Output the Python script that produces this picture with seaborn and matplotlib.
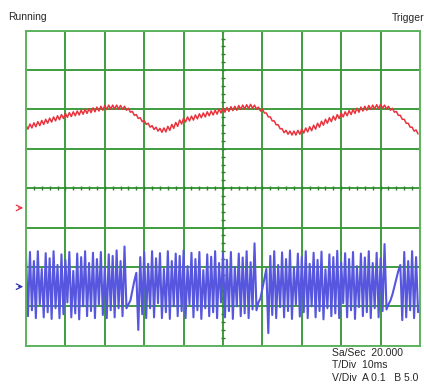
import numpy as np
import pandas as pd
import matplotlib.pyplot as plt
import seaborn as sns

# scope capture: 20 kS/s shown as 0.5 ms steps, 10 ms/div, 10 x 8 divisions
t_ms = np.arange(0, 100, 0.5)

# channel A (red), screen divisions, peak/trough pairs per ms
chan_a = [
    1.60, 1.50, 1.63, 1.53, 1.66, 1.56, 1.69, 1.59, 1.72, 1.62,
    1.75, 1.65, 1.78, 1.68, 1.81, 1.71, 1.84, 1.74, 1.87, 1.77,
    1.90, 1.80, 1.92, 1.82, 1.94, 1.84, 1.96, 1.86, 1.98, 1.88,
    2.00, 1.90, 2.02, 1.92, 2.04, 1.94, 2.06, 1.96, 2.08, 1.98,
    2.10, 2.00, 2.11, 2.01, 2.11, 2.01, 2.11, 2.01, 2.10, 2.00,
    2.08, 1.98, 2.03, 1.93, 1.95, 1.85, 1.87, 1.77, 1.79, 1.69,
    1.72, 1.62, 1.65, 1.55, 1.59, 1.49, 1.55, 1.45, 1.52, 1.42,
    1.53, 1.43, 1.57, 1.47, 1.62, 1.52, 1.67, 1.57, 1.73, 1.63,
    1.78, 1.68, 1.81, 1.71, 1.83, 1.73, 1.86, 1.76, 1.89, 1.79,
    1.91, 1.81, 1.94, 1.84, 1.96, 1.86, 1.98, 1.88, 2.01, 1.91,
    2.03, 1.93, 2.05, 1.95, 2.07, 1.97, 2.08, 1.98, 2.10, 2.00,
    2.11, 2.01, 2.12, 2.02, 2.13, 2.03, 2.11, 2.01, 2.06, 1.96,
    2.01, 1.91, 1.91, 1.81, 1.81, 1.71, 1.71, 1.61, 1.61, 1.51,
    1.51, 1.41, 1.47, 1.37, 1.45, 1.35, 1.45, 1.35, 1.47, 1.37,
    1.50, 1.40, 1.53, 1.43, 1.56, 1.46, 1.60, 1.50, 1.65, 1.55,
    1.70, 1.60, 1.75, 1.65, 1.79, 1.69, 1.83, 1.73, 1.87, 1.77,
    1.91, 1.81, 1.94, 1.84, 1.97, 1.87, 2.00, 1.90, 2.03, 1.93,
    2.06, 1.96, 2.08, 1.98, 2.10, 2.00, 2.11, 2.01, 2.12, 2.02,
    2.13, 2.03, 2.11, 2.01, 2.08, 1.98, 2.03, 1.93, 1.95, 1.85,
    1.85, 1.75, 1.75, 1.65, 1.65, 1.55, 1.55, 1.45, 1.48, 1.38,
]

# channel B (blue), screen divisions
chan_b = [
    -1.70, -3.25, -1.62, -3.10, -1.85, -3.30, -1.60, -2.95, -2.05, -3.28,
    -1.65, -3.15, -1.78, -3.32, -1.60, -3.05, -1.95, -3.30, -1.68, -3.20,
    -1.82, -2.90, -1.62, -3.28, -2.10, -3.18, -1.66, -3.33, -1.75, -3.00,
    -1.60, -3.25, -1.90, -3.12, -1.64, -3.30, -1.80, -2.95, -1.62, -3.22,
    -2.00, -3.30, -1.68, -3.10, -1.72, -3.28, -1.58, -3.05, -1.85, -3.25,
    -1.48, -3.05, -2.95, -2.85, -2.60, -2.35, -2.15, -3.60, -1.75, -3.20,
    -1.62, -3.30, -1.92, -3.05, -1.60, -3.28, -1.78, -2.92, -1.65, -3.30,
    -2.05, -3.15, -1.60, -3.32, -1.85, -3.00, -1.66, -3.25, -1.72, -3.12,
    -1.58, -3.30, -1.98, -2.95, -1.64, -3.28, -1.80, -3.10, -1.62, -3.32,
    -2.08, -3.05, -1.68, -3.25, -1.74, -3.15, -1.60, -3.30, -1.90, -2.90,
    -1.65, -3.28, -1.82, -3.12, -1.62, -3.32, -2.00, -3.00, -1.66, -3.25,
    -1.76, -3.18, -1.60, -3.30, -1.88, -3.08, -1.40, -3.10, -2.90, -2.80,
    -2.55, -2.30, -2.05, -3.68, -1.72, -3.22, -1.60, -3.30, -1.95, -3.02,
    -1.63, -3.28, -1.80, -3.12, -1.58, -3.32, -2.02, -2.95, -1.66, -3.26,
    -1.74, -3.15, -1.60, -3.30, -1.92, -3.00, -1.64, -3.28, -1.82, -3.12,
    -1.61, -3.33, -2.06, -3.05, -1.68, -3.25, -1.75, -3.18, -1.59, -3.30,
    -1.88, -2.92, -1.65, -3.28, -1.80, -3.10, -1.62, -3.32, -1.98, -3.02,
    -1.66, -3.25, -1.76, -3.15, -1.60, -3.30, -1.90, -3.05, -1.64, -3.28,
    -1.78, -3.12, -1.42, -3.08, -2.95, -2.85, -2.70, -2.50, -2.30, -2.10,
    -1.95, -3.35, -1.62, -3.28, -1.85, -3.10, -1.60, -3.30, -1.75, -3.15,
]

# ground markers (divisions)
ground_a = -0.5
ground_b = -2.5

status_left = 'Running'
status_right = 'Trigger'
info_lines = ['Sa/Sec  20.000', 'T/Div  10ms', 'V/Div  A 0.1   B 5.0']

df = pd.DataFrame({'t': t_ms, 'a': chan_a, 'b': chan_b})

sns.set_style('white')
plt.rcParams['font.family'] = ['Liberation Sans', 'DejaVu Sans']

GREEN = '#3f9c3f'

fig = plt.figure(figsize=(4.24, 3.88), dpi=100)
ax = fig.add_axes([26 / 424, 1 - 345.7 / 388, 394 / 424, 315 / 388])

sns.lineplot(data=df, x='t', y='a', ax=ax, color='#e8323c', lw=1.1,
             estimator=None, sort=False)
sns.lineplot(data=df, x='t', y='b', ax=ax, color='#5656de', lw=1.5,
             estimator=None, sort=False)

ax.set_xlim(0, 100)
ax.set_ylim(-4, 4)
ax.set_xticks(np.arange(0, 101, 10))
ax.set_yticks(np.arange(-4, 5, 1))
ax.set_axisbelow(True)
ax.grid(True, color=GREEN, lw=1.4)
ax.tick_params(length=0, labelbottom=False, labelleft=False)
ax.set_xlabel('')
ax.set_ylabel('')
for s in ax.spines.values():
    s.set_color('#5fb25f')
    s.set_linewidth(1.4)

# center graticule sub-ticks
ax.plot(np.arange(0, 100.1, 2), np.zeros(51), ls='none', marker='|',
        ms=3.5, mew=1.0, color='#2f7f2f', zorder=1)
ax.plot(np.full(41, 50.0), np.arange(-4, 4.01, 0.2), ls='none', marker='_',
        ms=3.5, mew=1.0, color='#2f7f2f', zorder=1)

# channel ground arrows
for g, c in [(ground_a, '#e8353f'), (ground_b, '#3030b0')]:
    ax.annotate('', xy=(0, g), xytext=(-2.6, g),
                arrowprops=dict(arrowstyle='->', color=c, lw=0.9),
                annotation_clip=False)

fig.text(8 / 424, 1 - 17 / 388, status_left, fontsize=7.5, va='center', ha='left')
fig.text(392 / 424, 1 - 18 / 388, status_right, fontsize=7.5, va='center', ha='left')
for i, line in enumerate(info_lines):
    fig.text(332 / 424, 1 - (353 + 12.5 * i) / 388, line, fontsize=7.5,
             va='center', ha='left')

fig.savefig('out.png', dpi=100, facecolor='white')
